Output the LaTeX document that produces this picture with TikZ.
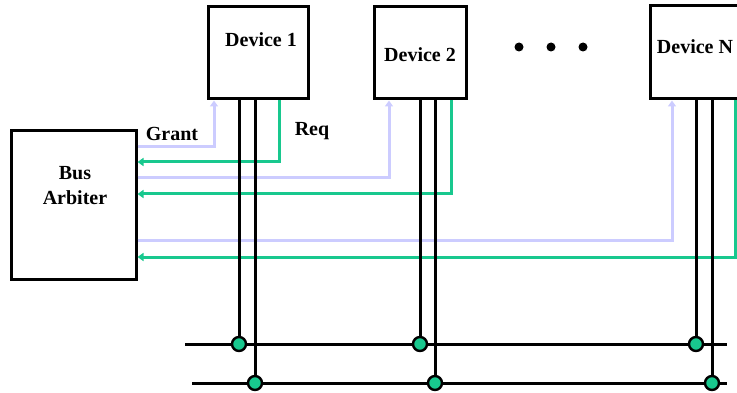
\documentclass[tikz,border=0pt]{standalone}
\usepackage{fontspec}
\setmainfont{Liberation Serif}
\usetikzlibrary{arrows.meta}
\definecolor{reqgreen}{RGB}{24,200,142}
\definecolor{grantblue}{RGB}{204,204,255}
\tikzset{
  box/.style={draw=black, line width=3pt, fill=white, inner sep=0pt},
  lbl/.style={font=\fontsize{20}{24}\selectfont\bfseries, inner sep=0pt},
  grantline/.style={draw=grantblue, line width=3pt, -{Triangle[length=6pt,width=8pt]}},
  reqline/.style={draw=reqgreen, line width=3pt, -{Triangle[length=6pt,width=8pt]}},
  busline/.style={draw=black, line width=3pt},
  tap/.style={circle, draw=black, line width=2.4pt, fill=reqgreen, minimum size=14pt, inner sep=0pt},
  etc/.style={circle, fill=black, minimum size=9pt, inner sep=0pt},
}
\begin{document}
\begin{tikzpicture}[x=1pt, y=-1pt]
\useasboundingbox (0,0) rectangle (737,393);

% boxes
\node[box, minimum width=125pt, minimum height=148pt] (arb) at (73.5,205) {};
\node[box, minimum width=100pt, minimum height=92pt] (d1) at (258,53) {};
\node[box, minimum width=92pt, minimum height=92pt] (d2) at (420,53) {};
\node[box, minimum width=88pt, minimum height=93pt] (dn) at (694,52.5) {};

% box texts
\node[lbl] (t1) at (261,40) {Device 1};
\node[lbl] (t2) at (420,55) {Device 2};
\node[lbl] (tn) at (695,47) {Device N};
\node[lbl, align=center] (ta) at (75,186) {Bus\\[1pt]Arbiter};
\node[lbl] (grant) at (172,134) {Grant};
\node[lbl] (req) at (312,131) {Req};

% ellipsis between devices
\node[etc] (e1) at (519,47) {};
\node[etc] (e2) at (551,47) {};
\node[etc] (e3) at (583,47) {};

% bend points of the grant / request lines
\coordinate (g1) at (214,147);
\coordinate (r1) at (279,162);
\coordinate (g2) at (389,178);
\coordinate (r2) at (451,194);
\coordinate (gn) at (672,241);
\coordinate (rn) at (735,257);

% grant lines: arbiter -> device
\draw[grantline] (arb.east |- g1) -| (d1.south -| g1);
\draw[grantline] (arb.east |- g2) -| (d2.south -| g2);
\draw[grantline] (arb.east |- gn) -| (dn.south -| gn);

% request lines: device -> arbiter
\draw[reqline] (d1.south -| r1) |- (arb.east |- r1);
\draw[reqline] (d2.south -| r2) |- (arb.east |- r2);
\draw[reqline] (dn.south -| rn) |- (arb.east |- rn);

% bus lines
\coordinate (b1l) at (185,344);
\coordinate (b1r) at (727,344);
\coordinate (b2l) at (192,383);
\coordinate (b2r) at (727,383);
\draw[busline] (b1l) -- (b1r);
\draw[busline] (b2l) -- (b2r);

% tap points on the two bus lines
\coordinate (c11) at (239,344);
\coordinate (c12) at (255,383);
\coordinate (c21) at (420,344);
\coordinate (c22) at (435,383);
\coordinate (cn1) at (696,344);
\coordinate (cn2) at (712,383);

% device bus wires
\draw[busline] (d1.south -| c11) -- (c11);
\draw[busline] (d1.south -| c12) -- (c12);
\draw[busline] (d2.south -| c21) -- (c21);
\draw[busline] (d2.south -| c22) -- (c22);
\draw[busline] (dn.south -| cn1) -- (cn1);
\draw[busline] (dn.south -| cn2) -- (cn2);

% taps onto the bus
\node[tap] (p11) at (c11) {};
\node[tap] (p12) at (c12) {};
\node[tap] (p21) at (c21) {};
\node[tap] (p22) at (c22) {};
\node[tap] (pn1) at (cn1) {};
\node[tap] (pn2) at (cn2) {};
\end{tikzpicture}
\end{document}
